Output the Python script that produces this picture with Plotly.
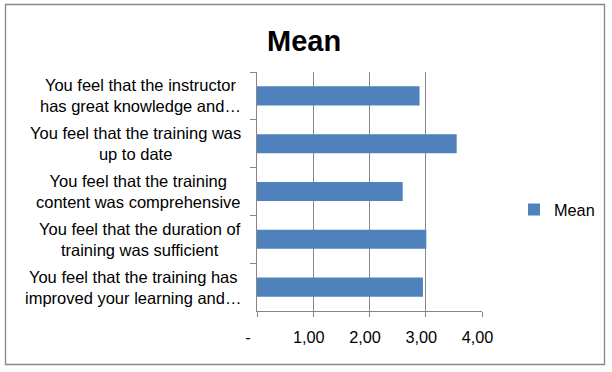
import plotly.graph_objects as go

# ---- data ----
categories = [
    "You feel that the instructor<br>has great knowledge and…",
    "You feel that the training was<br>up to date",
    "You feel that the training<br>content was comprehensive",
    "You feel that the duration of<br>training was sufficient",
    "You feel that the training has<br>improved your learning and…",
]
cat_keys = ["c1", "c2", "c3", "c4", "c5"]
mean_values = [2.89, 3.55, 2.59, 3.01, 2.95]
x_tickvals = [0, 1, 2, 3, 4]
x_ticktext = ["-\u00a0\u00a0\u00a0\u00a0", "1,00\u00a0\u00a0", "2,00\u00a0\u00a0", "3,00\u00a0\u00a0", "4,00\u00a0\u00a0"]
series_name = "Mean"
title_text = "Mean"

# ---- style / layout ----
W, H = 612, 372
L, R, T, B = 257, 130, 72, 61
BAR = "#4F81BD"
GRID = "#868686"
FONT = "Arial, Liberation Sans, sans-serif"
pw = W - L - R
ph = H - T - B

fig = go.Figure()
fig.add_trace(go.Bar(
    x=mean_values, y=cat_keys, orientation="h",
    name=series_name, marker=dict(color=BAR, line=dict(width=0)),
    showlegend=True,
))

annotations = []
for key, lab in zip(cat_keys, categories):
    annotations.append(dict(
        x=0, xref="paper", y=key, yref="y", text=lab, showarrow=False,
        xanchor="right", yanchor="middle", align="center", xshift=-14,
        font=dict(family=FONT, size=16.5, color="#000000"),
    ))

# chart border (pixel positions converted to paper coords)
bx0, bx1, by0, by1 = 5.5, 604.5, 4.5, 364.5
shapes = [dict(
    type="rect", xref="paper", yref="paper", layer="below",
    x0=(bx0 - L) / pw, x1=(bx1 - L) / pw,
    y0=1 - (by1 - T) / ph, y1=1 - (by0 - T) / ph,
    line=dict(color="#868686", width=1.3), fillcolor="rgba(0,0,0,0)",
)]

fig.update_layout(
    width=W, height=H,
    margin=dict(l=L, r=R, t=T, b=B, pad=0),
    paper_bgcolor="white", plot_bgcolor="white",
    font=dict(family=FONT, size=16.3, color="#000000"),
    title=dict(text="<b>" + title_text + "</b>", x=0.497, xref="container", xanchor="center",
               y=1 - 41 / H, yref="container", yanchor="middle",
               font=dict(family=FONT, size=29, color="#000000")),
    bargap=0.6,
    showlegend=True,
    legend=dict(x=(514 - L) / pw, xanchor="left", y=1 - (210 - T) / ph, yanchor="middle",
                font=dict(family=FONT, size=16.3, color="#000000"),
                bgcolor="rgba(0,0,0,0)", itemwidth=30),
    annotations=annotations,
    shapes=shapes,
)
fig.update_xaxes(
    range=[0, 4], tickvals=x_tickvals, ticktext=x_ticktext,
    showgrid=True, gridcolor=GRID, gridwidth=1,
    showline=True, linecolor=GRID, linewidth=1,
    ticks="outside", ticklen=5, tickcolor=GRID, ticklabelstandoff=6,
    zeroline=False, fixedrange=True,
)
fig.update_yaxes(
    type="category", autorange="reversed", categoryorder="array", categoryarray=cat_keys,
    showticklabels=False, showgrid=False,
    showline=True, linecolor=GRID, linewidth=1,
    ticks="outside", ticklen=6, tickcolor=GRID, tickson="boundaries",
    zeroline=False, fixedrange=True,
)

fig.write_html("out.html", config={"displayModeBar": False},
               post_script="document.body.style.margin='0px';")
